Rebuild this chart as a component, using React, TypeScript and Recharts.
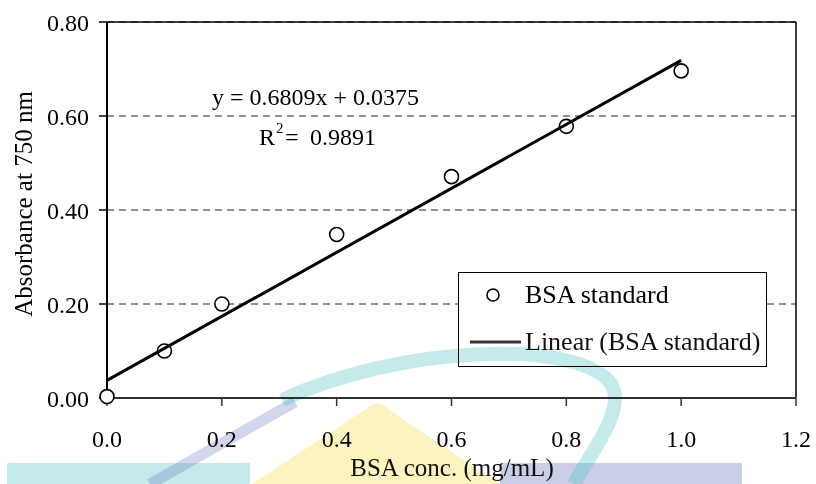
import React from "react";
import {
  ComposedChart,
  Scatter,
  Line,
  XAxis,
  YAxis,
  CartesianGrid,
  ReferenceLine,
  Legend,
} from "recharts";

// ---- data ----
const concentrations = [0, 0.1, 0.2, 0.4, 0.6, 0.8, 1.0];
const absorbance = [0.003, 0.1, 0.2, 0.348, 0.471, 0.578, 0.696];
const trendX = [0, 1.0];
const trendY = [0.0375, 0.7184];
const xTicks = [0, 0.2, 0.4, 0.6, 0.8, 1.0, 1.2];
const yTicks = [0, 0.2, 0.4, 0.6, 0.8];
const seriesName = "BSA standard";
const trendName = "Linear (BSA standard)";
const xTitle = "BSA conc. (mg/mL)";
const yTitle = "Absorbance at 750 nm";
const equationText = "y = 0.6809x + 0.0375";
const r2Value = "0.9891";

const points = concentrations.map((x, i) => ({ x, y: absorbance[i] }));
const trend = trendX.map((x, i) => ({ x, y: trendY[i] }));

const FONT = "'Liberation Serif', 'Times New Roman', serif";

const CircleShape = (props: any) => {
  const { cx, cy } = props;
  if (cx == null || cy == null) return null;
  return <circle cx={cx} cy={cy} r={7} fill="#fff" stroke="#000" strokeWidth={1.6} />;
};

const LegendContent = (props: any) => {
  const payload: any[] = props.payload || [];
  const scatterEntry = payload.find((p) => p.value === seriesName) || { value: seriesName };
  const lineEntry = payload.find((p) => p.value === trendName) || { value: trendName };
  return (
    <div
      style={{
        width: 309,
        height: 95,
        boxSizing: "border-box",
        border: "1px solid #000",
        background: "#fff",
      }}
    >
      <svg width={307} height={93} style={{ display: "block" }}>
        <circle cx={34} cy={22} r={6} fill="#fff" stroke="#000" strokeWidth={1.6} />
        <text x={66} y={30} fontFamily={FONT} fontSize={26} fill="#000">
          {scatterEntry.value}
        </text>
        <line x1={11} y1={69} x2={62} y2={69} stroke="#333" strokeWidth={3} />
        <text x={66} y={77} fontFamily={FONT} fontSize={26} fill="#111">
          {lineEntry.value}
        </text>
      </svg>
    </div>
  );
};

export default function App() {
  const tickStyle = { fontFamily: FONT, fontSize: 24, fill: "#000" };
  return (
    <div style={{ position: "absolute", left: 0, top: 0, width: 816, height: 484, background: "#fff" }}>
      <div style={{ position: "absolute", left: 0, top: 0 }}>
        <ComposedChart
          width={816}
          height={484}
          margin={{ top: 22, right: 20, bottom: 0, left: 0 }}
        >
          <CartesianGrid
            horizontal
            vertical={false}
            stroke="#222"
            strokeWidth={1}
            strokeDasharray="7 5"
          />
          <XAxis
            type="number"
            dataKey="x"
            domain={[0, 1.2]}
            ticks={xTicks}
            tickFormatter={(v: number) => v.toFixed(1)}
            height={86}
            tickSize={8}
            tickMargin={24}
            tick={tickStyle}
            axisLine={{ stroke: "#333", strokeWidth: 2 }}
            tickLine={{ stroke: "#333", strokeWidth: 1.5 }}
          />
          <YAxis
            type="number"
            dataKey="y"
            domain={[0, 0.8]}
            ticks={yTicks}
            tickFormatter={(v: number) => v.toFixed(2)}
            width={107}
            tickSize={8}
            tickMargin={10}
            tick={tickStyle}
            axisLine={{ stroke: "#000", strokeWidth: 2 }}
            tickLine={{ stroke: "#000", strokeWidth: 1.5 }}
          />
          <ReferenceLine y={0.8} stroke="#000" strokeWidth={1.5} />
          <ReferenceLine x={1.2} stroke="#000" strokeWidth={1.5} />
          <Scatter
            name={seriesName}
            data={points}
            dataKey="y"
            shape={CircleShape}
            isAnimationActive={false}
            legendType="circle"
            zIndex={550}
          />
          <Line
            name={trendName}
            data={trend}
            dataKey="y"
            type="linear"
            stroke="#000"
            strokeWidth={3}
            dot={false}
            activeDot={false}
            isAnimationActive={false}
            legendType="line"
            zIndex={700}
          />
          <Legend
            layout="vertical"
            align="center"
            verticalAlign="middle"
            content={LegendContent}
            wrapperStyle={{ left: 458, top: 272, width: 309, height: 95 }}
          />
        </ComposedChart>
      </div>
      {/* annotations and titles */}
      <svg
        width={816}
        height={484}
        style={{ position: "absolute", left: 0, top: 0, pointerEvents: "none" }}
      >
        <text x={212} y={105} fontFamily={FONT} fontSize={24} fill="#000">
          {equationText}
        </text>
        <text y={145} fontFamily={FONT} fontSize={24} fill="#000">
          <tspan x={259}>R</tspan>
          <tspan x={276} y={133} fontSize={15}>2</tspan>
          <tspan x={285} y={145}>=</tspan>
          <tspan x={310}>{r2Value}</tspan>
        </text>
        <text
          transform="translate(32,204) rotate(-90)"
          textAnchor="middle"
          fontFamily={FONT}
          fontSize={25}
          fill="#000"
        >
          {yTitle}
        </text>
        <text x={452} y={476} textAnchor="middle" fontFamily={FONT} fontSize={25} fill="#111">
          {xTitle}
        </text>
        {/* faint background watermark */}
        <g style={{ mixBlendMode: "multiply" }}>
          <rect x={0} y={338} width={773} height={146} fill="#fff" opacity={0.25} />
          <rect x={7} y={463} width={243} height={21} fill="#3cbcb8" opacity={0.3} />
          <rect x={500} y={463} width={242} height={21} fill="#5060af" opacity={0.3} />
          <path
            d="M372 405 Q380 400 392 412 L500 484 L252 484 Z"
            fill="#f8d728"
            opacity={0.3}
          />
          <path
            d="M150 484 L295 402"
            stroke="#5060af"
            strokeWidth={11}
            opacity={0.25}
            fill="none"
          />
          <path
            d="M282 400 C 400 345, 580 338, 612 385 C 625 412, 592 450, 574 484"
            stroke="#3cbcb8"
            strokeWidth={14}
            opacity={0.3}
            fill="none"
          />
        </g>
      </svg>
    </div>
  );
}
